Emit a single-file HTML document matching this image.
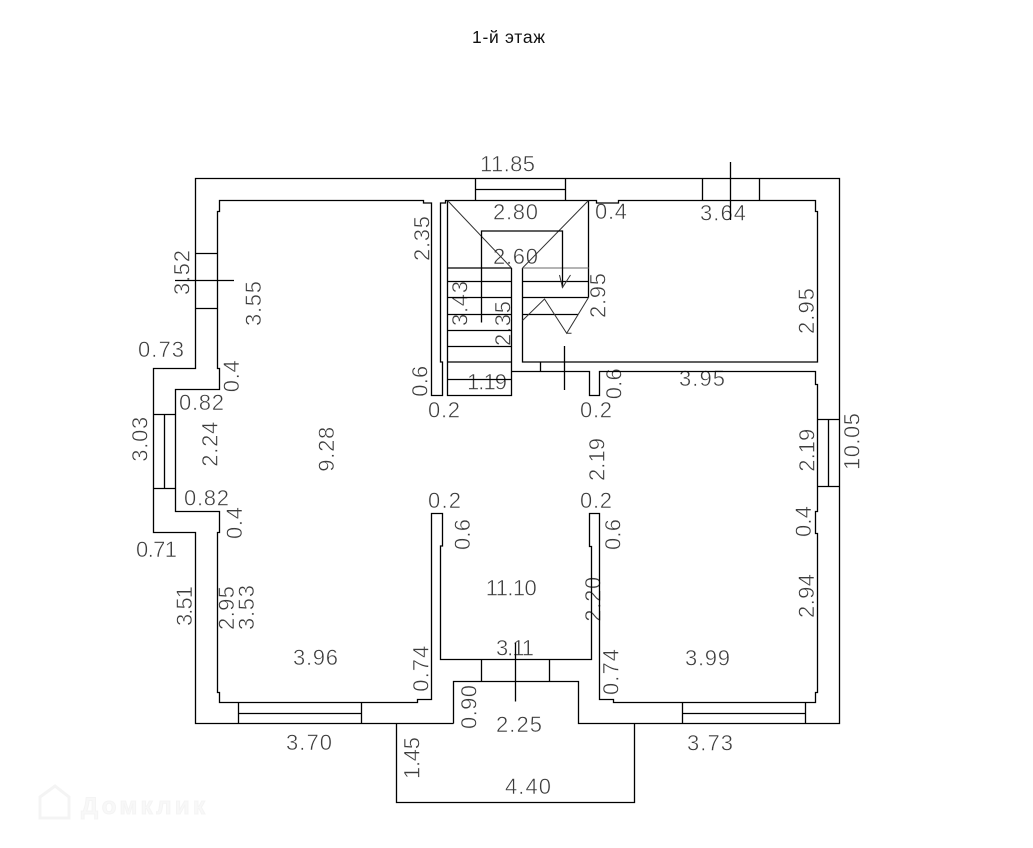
<!DOCTYPE html>
<html><head><meta charset="utf-8"><style>
html,body{margin:0;padding:0;background:#fff;width:1033px;height:848px;overflow:hidden}
svg{display:block}
.t text{font-family:"Liberation Sans",sans-serif;font-size:22px;fill:#3c3c3c;stroke:#fff;stroke-width:.5px}
</style></head><body>
<svg width="1033" height="848" viewBox="0 0 1033 848" xmlns="http://www.w3.org/2000/svg">
<rect width="1033" height="848" fill="#fff"/>
<text x="472" y="43" textLength="73" font-family="'Liberation Sans',sans-serif" font-size="17.5" fill="#111">1-й этаж</text>
<g fill="#f8f8f8" stroke="#f4f4f4"><path d="M40 797L55 786L69 797V818H40Z" fill="none" stroke-width="3"/>
<text x="81" y="814" font-family="'Liberation Sans',sans-serif" font-size="24" font-weight="bold" textLength="124">Домклик</text></g>
<g class="t">
<text x="480" y="171.7" textLength="55">11.85</text>
<text x="493" y="219.3" textLength="45">2.80</text>
<text x="595" y="219" textLength="32">0.4</text>
<text x="700" y="220.7" textLength="46">3.64</text>
<text x="493" y="264" textLength="45">2.60</text>
<text x="467" y="389.3" textLength="40">1.19</text>
<text x="679" y="386" textLength="46">3.95</text>
<text x="138" y="357" textLength="46">0.73</text>
<text x="179" y="410" textLength="45">0.82</text>
<text x="428" y="417.7" textLength="32">0.2</text>
<text x="580" y="417.7" textLength="32">0.2</text>
<text x="184" y="505.7" textLength="45">0.82</text>
<text x="136" y="557" textLength="41">0.71</text>
<text x="293" y="665" textLength="45">3.96</text>
<text x="428" y="508" textLength="33">0.2</text>
<text x="580" y="508" textLength="32">0.2</text>
<text x="485.7" y="595.7" textLength="51">11.10</text>
<text x="496" y="655.7" textLength="38">3.11</text>
<text x="496" y="732" textLength="46">2.25</text>
<text x="505" y="794" textLength="46">4.40</text>
<text x="286" y="750" textLength="46">3.70</text>
<text x="687" y="750.7" textLength="46">3.73</text>
<text x="685" y="665.7" textLength="45">3.99</text>
<text transform="translate(429.3,261) rotate(-90)" textLength="45">2.35</text>
<text transform="translate(189.3,295) rotate(-90)" textLength="45">3.52</text>
<text transform="translate(261,326) rotate(-90)" textLength="45">3.55</text>
<text transform="translate(239,392.3) rotate(-90)" textLength="32">0.4</text>
<text transform="translate(427.7,396.7) rotate(-90)" textLength="31">0.6</text>
<text transform="translate(147.7,461.7) rotate(-90)" textLength="45">3.03</text>
<text transform="translate(217.3,466.7) rotate(-90)" textLength="45">2.24</text>
<text transform="translate(334,471.7) rotate(-90)" textLength="45">9.28</text>
<text transform="translate(242,539) rotate(-90)" textLength="32">0.4</text>
<text transform="translate(192,626) rotate(-90)" textLength="40">3.51</text>
<text transform="translate(234,630) rotate(-90)" textLength="44">2.95</text>
<text transform="translate(254,630) rotate(-90)" textLength="45">3.53</text>
<text transform="translate(428.3,691.7) rotate(-90)" textLength="46">0.74</text>
<text transform="translate(467.3,326) rotate(-90)" textLength="45">3.43</text>
<text transform="translate(510.7,346) rotate(-90)" textLength="45">2.35</text>
<text transform="translate(605.7,318) rotate(-90)" textLength="45">2.95</text>
<text transform="translate(621.3,399.3) rotate(-90)" textLength="31">0.6</text>
<text transform="translate(814,334) rotate(-90)" textLength="46">2.95</text>
<text transform="translate(859.3,470) rotate(-90)" textLength="57">10.05</text>
<text transform="translate(814.3,471.7) rotate(-90)" textLength="43">2.19</text>
<text transform="translate(604.3,481) rotate(-90)" textLength="43">2.19</text>
<text transform="translate(470,550) rotate(-90)" textLength="31">0.6</text>
<text transform="translate(620.7,550) rotate(-90)" textLength="31">0.6</text>
<text transform="translate(600.7,621.7) rotate(-90)" textLength="45">2.20</text>
<text transform="translate(476.7,729) rotate(-90)" textLength="44">0.90</text>
<text transform="translate(618.3,695) rotate(-90)" textLength="46">0.74</text>
<text transform="translate(419.3,779) rotate(-90)" textLength="42">1.45</text>
<text transform="translate(811,537) rotate(-90)" textLength="31">0.4</text>
<text transform="translate(814,618) rotate(-90)" textLength="44">2.94</text>
</g>
<g fill="none" stroke="#000" stroke-width="1.3">
<!-- outer wall -->
<path d="M453.5 723.5H195.5V532.5H153.5V368.5H195.5V178.5H839.5V723.5H578.5V681.5H453.5V723.5"/>
<!-- porch -->
<path d="M396.5 723.5V802.5H634.5V723.5"/>
<!-- left room + central hall + right lower room inner contour -->
<path d="M447.5 200.5H445.5V203H440.5V362H442.5V395.5H431.5V203H423.5V200.5H219.5V211.5H217.5V368.5H219.5V389.5H175.5V511.5H219.5V532.5H217.5V692.5H219.5V702.5H417.5V699.5H431.5V513.5H442.5V546H440.5V659.5H591.5V546.5H589.5V513.5H599.5V699.5H613.5V702.5H815.5V692.5H817.5V533.5H815.5V511.5H817.5V384.5H815.5V371.5H599.5V395.5H589.5V371.5H511.5"/>
<!-- upper right room + stair -->
<path d="M447.5 200.5H596.5V203H618.5V200.5H815.5V211.5H817.5V362H522.5V268"/>
<path d="M447.5 200.5V395.5H511.5V268"/>
<path d="M588.5 200.5V297.5"/>
<path d="M540.5 362V371.5"/>
<!-- stair treads -->
<path d="M447.5 281.5H511.5M447.5 297.5H511.5M447.5 314.5H511.5M447.5 330.5H511.5M447.5 346.5H511.5M447.5 362H511.5M447.5 379.5H511.5"/>
<path d="M447.5 268H511.5"/>
<path d="M522.5 281.5H588.5M522.5 297.5H588.5M522.5 314.5H578.5"/>
<path d="M522.5 268H588.5" stroke="#888"/>
<!-- stair diagonals -->
<path d="M447.5 200.5L511.5 268M588.5 200.5L522.5 268" stroke="#333" stroke-width="1"/>
<path d="M522.5 320.5L544.5 299L566.7 333.3L588.5 297.5M566.7 333.3H571.5" stroke="#333" stroke-width="1"/>
<path d="M481.5 322.5V231H562.5V287.5"/>
<path d="M559.5 275L562.5 287.5L570.5 275" stroke="#333" stroke-width="1"/>
<!-- windows -->
<path d="M475.5 178.5V200.5M565.5 178.5V200.5M475.5 189.5H565.5"/>
<path d="M702.5 178.5V200.5M759.5 178.5V200.5"/>
<path d="M195.5 253.5H217.5M195.5 308.5H217.5"/>
<path d="M153.5 414.5H175.5M153.5 488.5H175.5M164.5 414.5V488.5"/>
<path d="M238.5 702.5V723.5M361.5 702.5V723.5M238.5 713.5H361.5"/>
<path d="M682.5 702.5V723.5M805.5 702.5V723.5M682.5 713.5H805.5"/>
<path d="M817.5 419.5H839.5M817.5 486.5H839.5M828.5 419.5V486.5"/>
<path d="M481.5 659.5V681.5M549.5 659.5V681.5"/>
<!-- ticks -->
<path d="M730.5 162V220M175 280.5H234M564.5 346V390M515.5 643V701.5"/>
</g>
</svg>
</body></html>
